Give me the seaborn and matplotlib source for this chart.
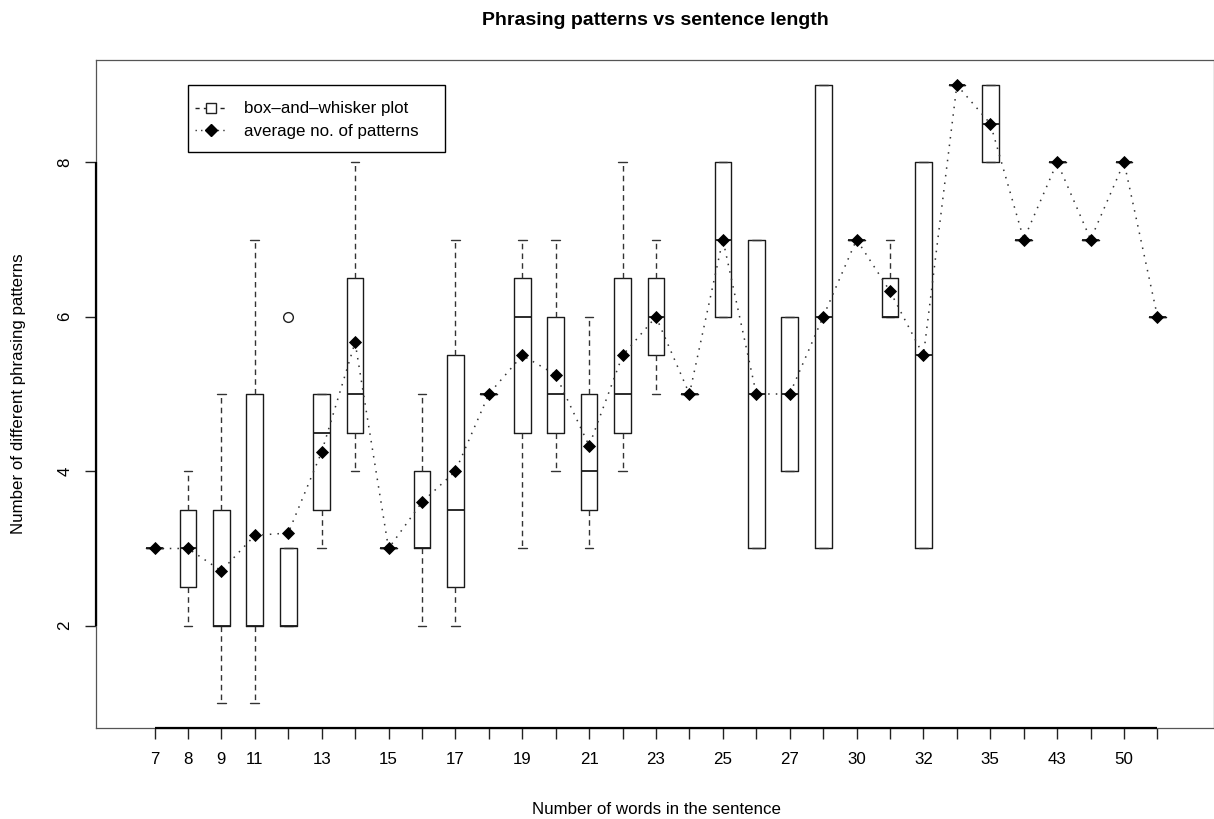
import numpy as np
import pandas as pd
import matplotlib
matplotlib.use("Agg")
import matplotlib.pyplot as plt
from matplotlib.lines import Line2D
from matplotlib.patches import Rectangle
import seaborn as sns

# ---- data ----
word_counts = ["7", "8", "9", "11", "12", "13", "14", "15", "16", "17", "18", "19",
               "20", "21", "22", "23", "24", "25", "26", "27", "28", "30", "31", "32",
               "33", "35", "38", "43", "45", "50", "54"]
whisker_low = [3, 2, 1, 1, 2, 3, 4, 3, 2, 2, 5, 3, 4, 3, 4, 5, 5, 6, 3, 4, 3, 7, 6, 3, 9, 8, 7, 8, 7, 8, 6]
quart_low   = [3, 2.5, 2, 2, 2, 3.5, 4.5, 3, 3, 2.5, 5, 4.5, 4.5, 3.5, 4.5, 5.5, 5, 6, 3, 4, 3, 7, 6, 3, 9, 8, 7, 8, 7, 8, 6]
medians     = [3, 3, 2, 2, 2, 4.5, 5, 3, 3, 3.5, 5, 6, 5, 4, 5, 6, 5, 7, 5, 5, 6, 7, 6, 5.5, 9, 8.5, 7, 8, 7, 8, 6]
quart_high  = [3, 3.5, 3.5, 5, 3, 5, 6.5, 3, 4, 5.5, 5, 6.5, 6, 5, 6.5, 6.5, 5, 8, 7, 6, 9, 7, 6.5, 8, 9, 9, 7, 8, 7, 8, 6]
whisker_high = [3, 4, 5, 7, 3, 5, 8, 3, 5, 7, 5, 7, 7, 6, 8, 7, 5, 8, 7, 6, 9, 7, 7, 8, 9, 9, 7, 8, 7, 8, 6]
outliers    = [[], [], [], [], [6], [], [], [], [], [], [], [], [], [], [], [], [], [], [], [], [], [], [], [], [], [], [], [], [], [], []]
averages    = [3, 3, 2.71, 3.17, 3.2, 4.25, 5.67, 3, 3.6, 4, 5, 5.5, 5.25, 4.33, 5.5, 6, 5, 7, 5, 5, 6, 7, 6.33, 5.5, 9, 8.5, 7, 8, 7, 8, 6]

title = "Phrasing patterns vs sentence length"
x_label = "Number of words in the sentence"
y_label = "Number of different phrasing patterns"
legend_labels = ["box\u2013and\u2013whisker plot", "average no. of patterns"]

# ---- figure ----
sns.set_theme(style="white")
plt.rcParams["font.family"] = ["Liberation Sans", "DejaVu Sans"]
plt.rcParams["text.color"] = "black"
plt.rcParams["axes.labelcolor"] = "black"
plt.rcParams["xtick.color"] = "black"
plt.rcParams["ytick.color"] = "black"

W, H = 1214, 819
fig = plt.figure(figsize=(W / 100, H / 100), dpi=100)
ax = fig.add_axes([96 / W, 1 - 728 / H, (1214 - 96) / W, (728 - 60) / H])

n = len(word_counts)
positions = np.arange(n)

stats = []
for i in range(n):
    stats.append(dict(med=medians[i], q1=quart_low[i], q3=quart_high[i],
                      whislo=whisker_low[i], whishi=whisker_high[i],
                      fliers=outliers[i], label=word_counts[i]))

ax.bxp(stats, positions=positions, widths=0.5, capwidths=0.26, showfliers=True,
       boxprops=dict(color="#1a1a1a", linewidth=1.0),
       medianprops=dict(color="#1a1a1a", linewidth=1.3),
       whiskerprops=dict(color="#333333", linewidth=1.0, linestyle=(0, (4, 3))),
       capprops=dict(color="#333333", linewidth=1.0),
       flierprops=dict(marker="o", markersize=7, markerfacecolor="white",
                       markeredgecolor="#222222", markeredgewidth=1.0))

df = pd.DataFrame({"pos": positions, "avg": averages})
sns.lineplot(data=df, x="pos", y="avg", ax=ax, color="#333333", linewidth=1.1,
             linestyle=(0, (1, 4)), marker="D", markersize=6.2,
             markerfacecolor="black", markeredgecolor="black", markeredgewidth=0.6,
             legend=False, zorder=5)

# ---- axes styling (R base graphics look) ----
ax.set_xlim(-1.75, 31.69)
ax.set_ylim(0.676, 9.324)
for s in ax.spines.values():
    s.set_visible(True)
    s.set_color("#555555")
    s.set_linewidth(0.9)

ax.set_xticks(positions)
ax.set_xticklabels([w if (i < 3 or i % 2 == 1) else "" for i, w in enumerate(word_counts)])
ax.set_yticks([2, 4, 6, 8])
ax.set_yticklabels(["2", "4", "6", "8"], rotation=90, va="center")
ax.tick_params(axis="both", which="both", direction="out", length=8, width=1.0,
               color="#222222", labelsize=12.2, labelcolor="black", bottom=True, left=True)
ax.tick_params(axis="x", pad=9)
ax.tick_params(axis="y", pad=9)
ax.grid(False)

# axis lines spanning the tick range (as R draws them)
ax.plot([0, n - 1], [0.676, 0.676], color="black", linewidth=1.6, clip_on=False,
        solid_capstyle="butt", zorder=6)
ax.plot([-1.75, -1.75], [2, 8], color="black", linewidth=1.6, clip_on=False,
        solid_capstyle="butt", zorder=6)

ax.set_title(title, fontsize=14, fontweight="bold", pad=25, color="black")
ax.set_xlabel(x_label, fontsize=12.2, color="black")
ax.set_ylabel(y_label, fontsize=12.2, color="black")
ax.xaxis.set_label_coords((656 - 96) / (1214 - 96), -(802 - 728) / (728 - 60))
ax.yaxis.set_label_coords(-(96 - 26) / (1214 - 96), 0.5)

# ---- legend (R-style box) ----
ax_w, ax_h = 1214 - 96, 728 - 60
frame = Rectangle(((188 - 96) / ax_w, 1 - (152 - 60) / ax_h),
                  (445 - 188) / ax_w, (152 - 85) / ax_h, transform=ax.transAxes,
                  facecolor="white", edgecolor="black", linewidth=1.0, zorder=7)
ax.add_patch(frame)

handles = [
    Line2D([], [], color="#222222", linestyle=(0, (3, 3)), linewidth=1.0, marker="s",
           markersize=6.5, markerfacecolor="white", markeredgecolor="#222222"),
    Line2D([], [], color="#333333", linestyle=(0, (1, 3)), linewidth=1.0, marker="D",
           markersize=6.2, markerfacecolor="black", markeredgecolor="black"),
]
leg = ax.legend(handles, legend_labels, loc="upper left",
                bbox_to_anchor=((194.5 - 96) / ax_w, 1 - (101.5 - 60) / ax_h),
                borderaxespad=0, borderpad=0, frameon=False,
                fontsize=12.2, handlelength=2.0, handletextpad=0.9, labelspacing=0.45)
leg.set_zorder(8)
for t in leg.get_texts():
    t.set_color("black")

fig.savefig("out.png", dpi=100, facecolor="white")
